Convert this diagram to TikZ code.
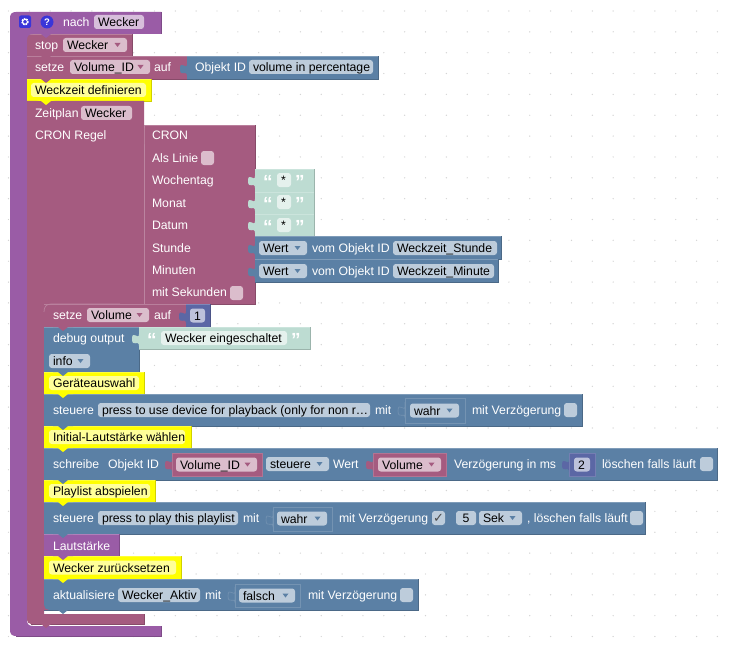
\documentclass[tikz,border=0pt]{standalone}
\usepackage{fontspec}
\setmainfont{Liberation Sans}
\definecolor{cpur}{HTML}{9A5CA6}
\definecolor{cred}{HTML}{A55B80}
\definecolor{cblu}{HTML}{5B80A5}
\definecolor{cgrn}{HTML}{BDDCD2}
\definecolor{cnum}{HTML}{5B67A5}
\definecolor{cyel}{HTML}{FFFF00}
\definecolor{fpur}{HTML}{D7BEDB}
\definecolor{fred}{HTML}{DBBDCC}
\definecolor{fblu}{HTML}{BDCCDB}
\definecolor{fgrn}{HTML}{E5F1ED}
\definecolor{fnum}{HTML}{BDC2DB}
\definecolor{fyel}{HTML}{FFFF99}
\definecolor{dotc}{HTML}{D4D4D4}
\definecolor{iconb}{HTML}{3A35D8}
\tikzset{
  lbl/.style={anchor=base west,inner sep=0pt,outer sep=0pt,font=\fontsize{12.25}{14}\selectfont},
  wlbl/.style={lbl,text=white},
  klbl/.style={lbl,text=black},
}
\newcommand{\blk}[5]{\fill[#5] (#1,#2) rectangle (#3,#4);
  \draw[#5!82!black,line width=.6pt] (#1,#4) -- (#3,#4) -- (#3,#2);
  \draw[#5!78!white,line width=.6pt] (#1,#2) -- (#3,#2);}
\newcommand{\bump}[3]{\fill[#3] ({#1-10},#2) -- ({#1-5},#2) -- (#1,{#2+4}) -- ({#1+5},#2) -- ({#1+10},#2) -- ({#1+6},{#2-1}) -- ({#1-6},{#2-1}) -- cycle;}
\newcommand{\tabpath}[2]{(#1,{#2-8}) -- (#1,{#2-4}) .. controls (#1,{#2+3}) and ({#1-7},{#2-9}) .. ({#1-7},{#2+1}) .. controls ({#1-7},{#2+10}) and (#1,{#2+1}) .. (#1,{#2+8}) -- cycle}
\newcommand{\tabb}[3]{\fill[#3] \tabpath{#1}{#2};}
\newcommand{\tabd}[3]{\path[fill=#3,draw=#3!85!white,line width=.6pt] \tabpath{#1}{#2};}
\newcommand{\fld}[6]{\fill[#5,rounded corners=2.8pt] (#2,{#4-7}) rectangle (#3,{#4+7});
  \node[klbl] (#1) at ({#2+4},{#4+4.8}) {#6};}
\newcommand{\dd}[7]{\fld{#1}{#2}{#3}{#4}{#5}{#6}
  \fill[#7] ({#3-12.5},{#4-2}) -- ({#3-6.5},{#4-2}) -- ({#3-9.5},{#4+2}) -- cycle;}
\newcommand{\txt}[4]{\node[wlbl] (#1) at (#2,{#3+4.8}) {#4};}
\newcommand{\chk}[3]{\fill[#3,rounded corners=2.8pt] (#1,{#2-7}) rectangle ({#1+13},{#2+7});}
\newcommand{\quot}[4]{\node[wlbl,font=\fontsize{19}{19}\bfseries\selectfont] (#1) at (#2,{#3+8.5}) {#4};}
\newcommand{\inbox}[5]{\fill[#5] (#1,#2) rectangle (#3,#4); \draw[#5!85!white,line width=.7pt] (#1,#2) rectangle (#3,#4);}
\begin{document}
\begin{tikzpicture}[x=1pt,y=-1pt]
\useasboundingbox (0,0) rectangle (733,650);
\fill[white] (0,0) rectangle (733,650);
% workspace dots
\foreach \i in {0,...,34} \foreach \j in {0,...,30}
  \fill[dotc] ({8.5+20.85*\i},{11+20.85*\j}) circle (.7);
% outer block
\fill[cpur] (161,34) -- (161,12) -- (16,12) .. controls (12,12) and (10,14) .. (10,18) -- (10,630) .. controls (10,634) and (12,636) .. (16,636) -- (161,636) -- (161,626) -- (33,626) .. controls (29,626) and (27,624) .. (27,620) -- (27,34) -- cycle;
\draw[cpur!82!black,line width=.6pt] (161,12) -- (161,34) (161,626) -- (161,636) -- (16,636);
% stop, setze
\blk{27}{34}{132}{56}{cred}
\fill[cpur] (27,34) -- (33,34) .. controls (29,34) and (27,36) .. (27,40) -- cycle;
\blk{27}{56}{187}{79}{cred}
\blk{187}{56}{378}{79}{cblu}
\tabb{187}{68}{cblu}
% comment
\blk{27}{79}{151}{101}{cyel}
% schedule block
\fill[cred] (27,101) -- (144,101) -- (144,304) -- (44,304) -- (44,614) -- (144,614) -- (144,624) -- (31,624) .. controls (29,624) and (27,622) .. (27,620) -- cycle;
\draw[cred!82!black,line width=.6pt] (144,614) -- (144,624) -- (31,624);
% CRON
\blk{144}{125}{255}{304}{cred}
\draw[cred!75!white,line width=.7pt] (144,125) -- (144,304);
\tabb{144}{136}{cred}
\blk{255}{169}{314}{192}{cgrn}
\blk{255}{192}{314}{214}{cgrn}
\blk{255}{214}{314}{237}{cgrn}
\tabb{255}{180}{cgrn}
\tabb{255}{203}{cgrn}
\tabb{255}{225}{cgrn}
\blk{255}{236}{501}{259}{cblu}
\blk{255}{259}{498}{282}{cblu}
\tabb{255}{248}{cblu}
\tabb{255}{271}{cblu}
% inner stack
\blk{44}{304}{186}{327}{cred}
\draw[cred!75!white,line width=.7pt] (44,312) .. controls (44,307) and (46,304) .. (51,304) -- (120,304);
\blk{186}{304}{210}{327}{cnum}
\tabb{186}{315.5}{cnum}
\blk{44}{327}{139}{372}{cblu}
\blk{139}{327}{310}{349}{cgrn}
\tabb{139}{338}{cgrn}
\blk{44}{372}{144}{394}{cyel}
\blk{44}{394}{582}{426}{cblu}
\blk{44}{426}{191}{448}{cyel}
\blk{44}{448}{717}{480}{cblu}
\blk{44}{480}{155}{502}{cyel}
\blk{44}{502}{645}{534}{cblu}
\blk{44}{534}{119}{556}{cpur}
\blk{44}{556}{181}{579}{cyel}
\blk{44}{579}{418}{610}{cblu}
\fill[cred] (44,610) -- (49,610) .. controls (46,610) and (44,608) .. (44,605) -- cycle;
% nested boxes
\tabd{405}{410}{cblu} \inbox{405}{398}{465}{423}{cblu}
\tabd{273}{519}{cblu} \inbox{273}{507}{332}{531}{cblu}
\tabd{235}{595}{cblu} \inbox{235}{584}{300}{607}{cblu}
\tabb{172}{464}{cred} \inbox{172}{453}{262}{476}{cred}
\tabb{373}{464}{cred} \inbox{373}{453}{446}{476}{cred}
\tabb{569}{464}{cnum} \inbox{569}{453}{595}{476}{cnum}
% bumps
\bump{46}{34}{cpur}
\bump{46}{56}{cred}
\bump{46}{79}{cred}
\bump{46}{101}{cyel}
\bump{63}{327}{cred}
\bump{63}{372}{cblu}
\bump{63}{394}{cyel}
\bump{63}{426}{cblu}
\bump{63}{448}{cyel}
\bump{63}{480}{cblu}
\bump{63}{502}{cyel}
\bump{63}{534}{cblu}
\bump{63}{556}{cpur}
\bump{63}{579}{cyel}
\bump{63}{610}{cblu}
\bump{46}{624}{cred}
% head icons
\fill[iconb,rounded corners=2pt] (19,15.5) rectangle (31,28);
\draw[white,line width=1.5pt,densely dotted] (25,21.8) circle (3);
\draw[white,line width=.9pt] (25,21.8) circle (2.4);
\node[circle,fill=iconb,inner sep=0pt,minimum size=13pt,text=white,font=\fontsize{9.5}{9.5}\bfseries\selectfont] (help) at (47,22) {?};
\txt{nach}{63}{22}{nach}
\fld{f1}{94}{144}{22}{fpur}{Wecker}
% stop / setze
\txt{stop}{35}{45}{stop}
\dd{f2}{63}{127}{45}{fred}{Wecker}{cred}
\txt{setze}{35}{67}{setze}
\dd{f3}{70}{150}{67}{fred}{Volume\_ID}{cred}
\txt{auf1}{154}{67}{auf}
\txt{objid1}{195}{67}{Objekt ID}
\fld{f4}{249}{373}{67}{fblu}{volume in percentage}
% comment
\fld{c1}{31}{146}{90}{fyel}{Weckzeit definieren}
% schedule
\txt{zeitplan}{35}{113}{Zeitplan}
\fld{f5}{81}{132}{113}{fred}{Wecker}
\txt{cronregel}{35}{135}{CRON Regel}
\txt{cron}{152}{135}{CRON}
\txt{linie}{152}{158}{Als Linie}
\chk{201}{158}{fred}
\txt{wtag}{152}{180}{Wochentag}
\txt{monat}{152}{203}{Monat}
\txt{datum}{152}{225}{Datum}
\txt{stunde}{152}{248}{Stunde}
\txt{minuten}{152}{270}{Minuten}
\txt{msek}{152}{292}{mit Sekunden}
\chk{230}{293}{fred}
\quot{qa}{263}{180}{“}\fld{s1}{277}{291}{180}{fgrn}{*}\quot{qb}{295}{180}{”}
\quot{qc}{263}{202}{“}\fld{s2}{277}{291}{202}{fgrn}{*}\quot{qd}{295}{202}{”}
\quot{qe}{263}{225}{“}\fld{s3}{277}{291}{225}{fgrn}{*}\quot{qf}{295}{225}{”}
\dd{f6}{259}{307}{248}{fblu}{Wert}{cblu}
\txt{vom1}{312}{248}{vom Objekt ID}
\fld{f7}{393}{497}{248}{fblu}{Weckzeit\_Stunde}
\dd{f8}{259}{307}{271}{fblu}{Wert}{cblu}
\txt{vom2}{312}{271}{vom Objekt ID}
\fld{f9}{393}{494}{271}{fblu}{Weckzeit\_Minute}
% setze Volume
\txt{setze2}{53}{315}{setze}
\dd{f10}{87}{149}{315}{fred}{Volume}{cred}
\txt{auf2}{154}{315}{auf}
\fld{f11}{190}{205}{315.5}{fnum}{1}
% debug
\txt{debug}{53}{338}{debug output}
\quot{qg}{147}{338}{“}\fld{s4}{161}{287}{338}{fgrn}{Wecker eingeschaltet}\quot{qh}{291}{338}{”}
\dd{f12}{49}{90}{361}{fblu}{info}{cblu}
% Geräte
\fld{c2}{49}{139}{383}{fyel}{Geräteauswahl}
\txt{st1}{53}{410}{steuere}
\fld{f13}{98}{370}{410}{fblu}{press to use device for playback (only for non r…}
\txt{mit1}{375}{410}{mit}
\dd{f14}{410}{459}{410.5}{fblu}{wahr}{cblu}
\txt{mv1}{472}{410}{mit Verzögerung}
\chk{564}{410}{fblu}
% Lautstärke
\fld{c3}{49}{185}{437}{fyel}{Initial-Lautstärke wählen}
\txt{schr}{53}{464}{schreibe}
\txt{objid2}{108}{464}{Objekt ID}
\dd{f15}{176}{257}{464.5}{fred}{Volume\_ID}{cred}
\dd{f16}{266}{329}{464}{fblu}{steuere}{cblu}
\txt{wert}{333}{464}{Wert}
\dd{f17}{378}{441}{464.5}{fred}{Volume}{cred}
\txt{verz}{454}{464}{Verzögerung in ms}
\fld{f18}{574}{590}{464.5}{fnum}{2}
\txt{loe1}{602}{464}{löschen falls läuft}
\chk{700}{464}{fblu}
% Playlist
\fld{c4}{49}{150}{491}{fyel}{Playlist abspielen}
\txt{st2}{53}{518}{steuere}
\fld{f19}{98}{238}{518}{fblu}{press to play this playlist}
\txt{mit2}{243}{518}{mit}
\dd{f20}{277}{327}{518.5}{fblu}{wahr}{cblu}
\txt{mv2}{339}{518}{mit Verzögerung}
\chk{432}{518}{fblu}
\node[text=black!70,font=\fontsize{13}{13}\selectfont,inner sep=0pt] (tick) at (438.5,518) {\fontspec{DejaVu Sans}✓};
\fld{f21}{456}{476}{518}{fblu}{\hspace{2.5pt}5}
\dd{f22}{479}{522}{518}{fblu}{Sek}{cblu}
\txt{loe2}{527}{518}{, löschen falls läuft}
\chk{630}{518}{fblu}
\txt{laut}{53}{546}{Lautstärke}
\fld{c5}{49}{176}{567.5}{fyel}{Wecker zurücksetzen}
\txt{akt}{53}{595}{aktualisiere}
\fld{f23}{118}{200}{595}{fblu}{Wecker\_Aktiv}
\txt{mit3}{205}{595}{mit}
\dd{f24}{239}{295}{595.5}{fblu}{falsch}{cblu}
\txt{mv3}{308}{595}{mit Verzögerung}
\chk{400}{595}{fblu}
\end{tikzpicture}
\end{document}
